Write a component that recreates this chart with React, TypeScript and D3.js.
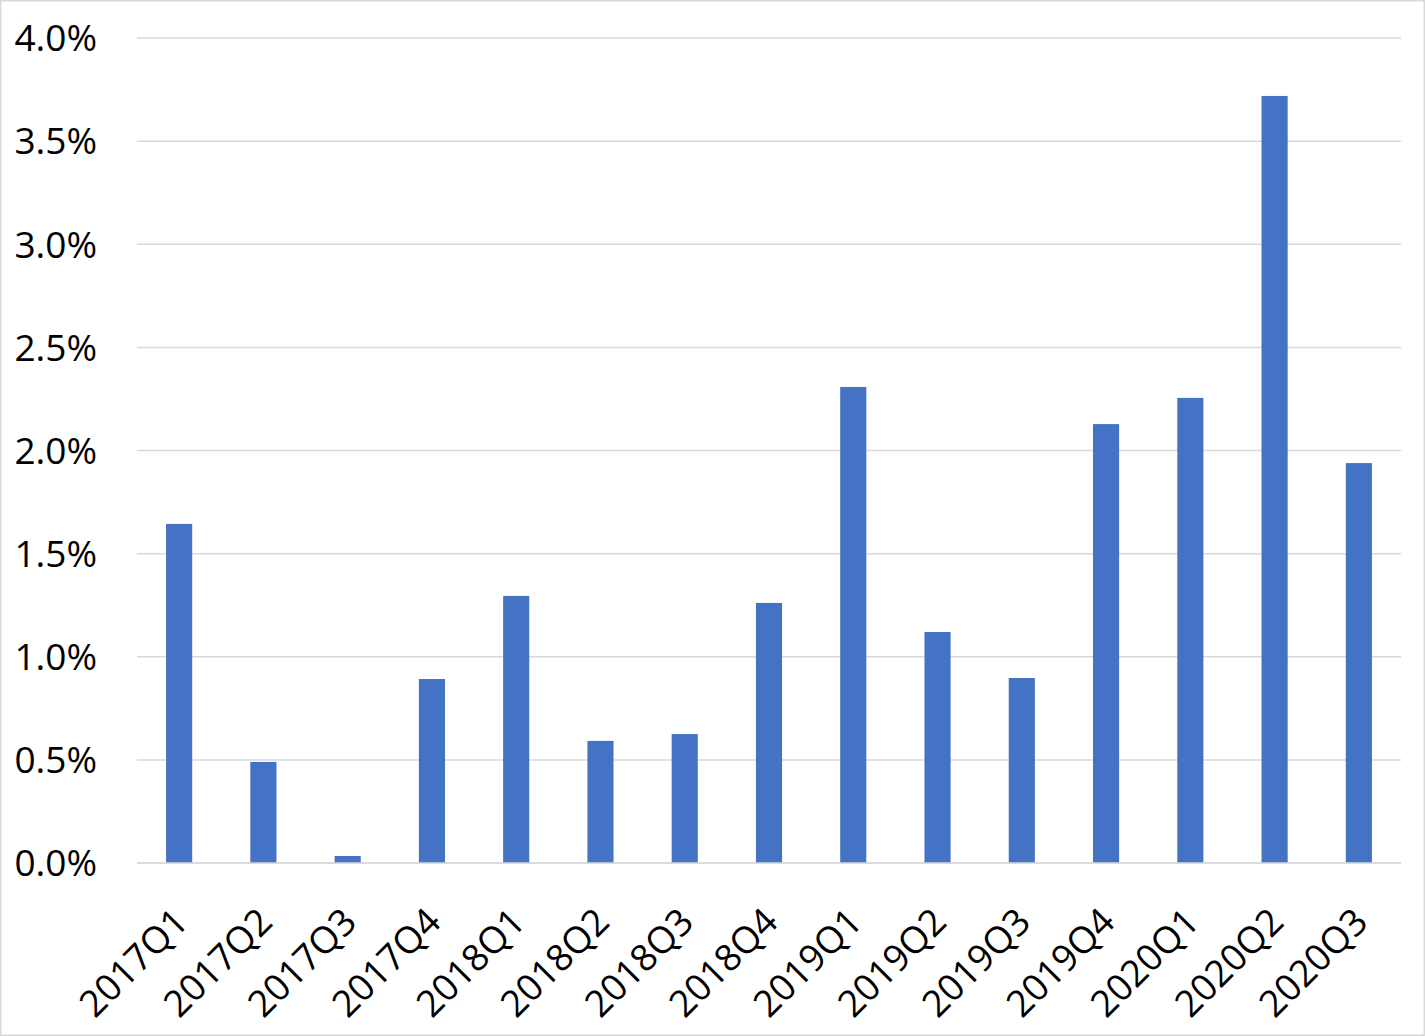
import React from "react";
import * as d3 from "d3";

const categories = ["2017Q1","2017Q2","2017Q3","2017Q4","2018Q1","2018Q2","2018Q3","2018Q4","2019Q1","2019Q2","2019Q3","2019Q4","2020Q1","2020Q2","2020Q3"];
const values = [1.644, 0.49, 0.034, 0.892, 1.295, 0.592, 0.625, 1.261, 2.308, 1.12, 0.897, 2.128, 2.255, 3.719, 1.939];
const yTicks = [0, 0.5, 1, 1.5, 2, 2.5, 3, 3.5, 4];

const W = 1425, H = 1036;
const left = 137, right = 1401, top = 38, bottom = 863;
const FONT = "'Open Sans', sans-serif";

export default function App() {
  const x = d3.scaleBand<string>().domain(categories).range([left, right]).paddingInner(0.69).paddingOuter(0.345);
  const y = d3.scaleLinear().domain([0, 4]).range([bottom, top]);
  return (
    <svg width={W} height={H} style={{ position: "absolute", left: 0, top: 0, background: "#fff" }}>
      <rect x={0.75} y={0.75} width={W - 1.5} height={H - 1.5} fill="#fff" stroke="#d9d9d9" strokeWidth={1.5} />
      {yTicks.map((t) => (
        <g key={t}>
          <line x1={left} x2={right} y1={y(t)} y2={y(t)} stroke="#d9d9d9" strokeWidth={1.5} />
          <text x={97} y={y(t)} dy="0.36em" textAnchor="end" fontFamily={FONT} fontSize={37} fill="#000">
            {t.toFixed(1) + "%"}
          </text>
        </g>
      ))}
      {categories.map((c, i) => (
        <rect key={c} x={x(c)!} y={y(values[i])} width={x.bandwidth()} height={y(0) - y(values[i])} fill="#4472c4" />
      ))}
      <line x1={left} x2={right} y1={y(0)} y2={y(0)} stroke="#d9d9d9" strokeWidth={1.5} />
      {categories.map((c) => {
        const cx = x(c)! + x.bandwidth() / 2;
        return (
          <text key={c} transform={`translate(${cx + 11},924) rotate(-45)`} textAnchor="end" fontFamily={FONT} fontSize={37} fill="#000">
            {c}
          </text>
        );
      })}
    </svg>
  );
}
